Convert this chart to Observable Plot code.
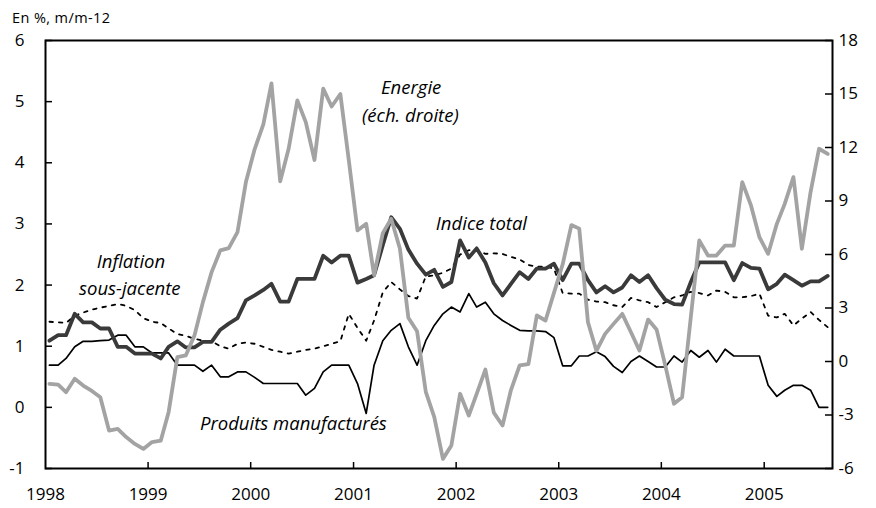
<!DOCTYPE html>
<html><head><meta charset="utf-8">
<script src="https://cdn.jsdelivr.net/npm/d3@7"></script>
<script src="https://cdn.jsdelivr.net/npm/@observablehq/plot@0.6"></script>
<style>
body{margin:0;background:#fff;font-family:"Open Sans",sans-serif;}
#wrap{position:relative;width:876px;height:508px;}
#unit{position:absolute;left:12px;top:8px;font-size:14.5px;letter-spacing:0.4px;color:#000;}
</style></head><body>
<div id="wrap"><div id="unit">En %, m/m-12</div></div>
<script>
// Monthly data, Jan 1998 – Aug 2005 (y/y % change)
const indiceTotal = [1.09,1.18,1.18,1.53,1.39,1.39,1.29,1.29,0.99,0.99,
 0.88,0.88,0.88,0.80,0.99,1.08,0.98,0.98,1.07,1.07,
 1.27,1.37,1.46,1.75,1.83,1.92,2.02,1.73,1.73,2.10,
 2.10,2.10,2.48,2.37,2.48,2.48,2.04,2.10,2.16,2.65,
 3.11,2.92,2.58,2.35,2.17,2.25,1.97,2.05,2.73,2.45,
 2.60,2.37,2.03,1.83,2.02,2.21,2.10,2.27,2.27,2.35,
 2.08,2.35,2.35,2.08,1.88,1.98,1.88,1.96,2.16,2.05,
 2.16,1.95,1.76,1.69,1.68,2.05,2.37,2.37,2.37,2.37,
 2.08,2.36,2.28,2.27,1.93,2.02,2.17,2.08,1.99,2.06,
 2.06,2.15];
const inflationSousJacente = [1.40,1.39,1.38,1.50,1.55,1.60,1.63,1.66,1.69,1.66,
 1.59,1.46,1.40,1.38,1.29,1.20,1.17,1.12,1.09,1.08,
 1.00,0.96,1.04,1.06,1.04,0.99,0.94,0.91,0.88,0.91,
 0.94,0.96,1.00,1.04,1.08,1.53,1.30,1.09,1.42,1.88,
 2.05,1.93,1.82,1.78,2.14,2.16,2.20,2.27,2.50,2.57,
 2.58,2.51,2.52,2.51,2.46,2.42,2.33,2.30,2.30,2.27,
 1.87,1.86,1.86,1.76,1.73,1.72,1.67,1.64,1.79,1.75,
 1.72,1.64,1.72,1.80,1.83,1.89,1.87,1.83,1.91,1.89,
 1.80,1.80,1.82,1.86,1.50,1.47,1.53,1.34,1.45,1.56,
 1.43,1.31];
const produitsManufactures = [0.69,0.69,0.80,0.99,1.08,1.08,1.09,1.10,1.18,1.18,
 0.99,0.99,0.89,0.89,0.89,0.69,0.69,0.69,0.59,0.69,
 0.50,0.50,0.58,0.58,0.49,0.39,0.39,0.39,0.39,0.39,
 0.20,0.31,0.58,0.69,0.69,0.69,0.39,-0.10,0.69,1.09,
 1.26,1.37,0.99,0.69,1.09,1.34,1.53,1.64,1.56,1.86,
 1.64,1.72,1.53,1.42,1.34,1.26,1.25,1.25,1.24,1.14,
 0.68,0.68,0.84,0.84,0.91,0.83,0.67,0.57,0.75,0.84,
 0.75,0.66,0.66,0.84,0.74,0.93,0.82,0.93,0.74,0.95,
 0.84,0.84,0.84,0.84,0.36,0.18,0.28,0.36,0.36,0.28,
 0.00,0.00];
const energie = [-1.25,-1.3,-1.72,-0.97,-1.35,-1.65,-2.0,-3.87,-3.78,-4.24,
 -4.62,-4.90,-4.52,-4.44,-2.84,0.24,0.34,1.46,3.33,5.01,
 6.23,6.36,7.25,10.06,11.9,13.3,15.6,10.1,11.93,14.64,
 13.42,11.3,15.3,14.3,15.0,11.3,7.35,7.72,4.85,7.2,
 8.0,6.32,2.45,1.7,-1.7,-3.1,-5.46,-4.71,-1.81,-3.03,
 -1.81,-0.45,-2.87,-3.59,-1.6,-0.22,-0.15,2.58,2.30,3.85,
 5.45,7.65,7.45,2.2,0.6,1.55,2.11,2.67,1.64,0.62,
 2.35,1.8,-0.22,-2.37,-2.0,2.5,6.79,5.94,5.94,6.5,
 6.5,10.06,8.75,6.97,6.04,7.72,8.84,10.34,6.32,9.5,
 11.93,11.64];

const leftTicks = [-1,0,1,2,3,4,5,6];
const rightTicks = [-6,-3,0,3,6,9,12,15,18];
const yearLabels = [1998,1999,2000,2001,2002,2003,2004,2005];

const labels = [
  {text:"Energie", date:new Date(2001,6,25), y:5.23},
  {text:"(éch. droite)", date:new Date(2001,6,22), y:4.77},
  {text:"Indice total", date:new Date(2002,3,1), y:2.99},
  {text:"Inflation", date:new Date(1998,10,1), y:2.37},
  {text:"sous-jacente", date:new Date(1998,9,28), y:1.93},
  {text:"Produits manufacturés", date:new Date(2000,5,1), y:-0.28}
];

// right axis (-6..18) mapped onto left axis (-1..6)
const toLeft = e => -1 + (e + 6) * 7 / 24;
const fromLeft = v => Math.round((v + 1) * 24 / 7 - 6);

const dates = d3.range(indiceTotal.length).map(i => new Date(1998, i, 15));
const series = (vals, f = v => v) => vals.map((v, i) => ({date: dates[i], v: f(v)}));
const yearDates = yearLabels.map(y => new Date(y, 0, 1));
const font = "'Open Sans', sans-serif";

const chart = Plot.plot({
  width: 876, height: 508,
  marginLeft: 45, marginRight: 44, marginTop: 40, marginBottom: 40,
  style: {fontFamily: font, fontSize: "17px", background: "white", color: "black"},
  x: {type: "time", domain: [new Date(1998,0,1), new Date(2005,8,1)]},
  y: {domain: [-1, 6]},
  marks: [
    Plot.axisY({anchor: "left", ticks: leftTicks, tickSize: 0, tickPadding: 21, tickFormat: d => String(d), label: null, fontSize: 17}),
    Plot.axisY({anchor: "right", ticks: rightTicks.map(toLeft), tickSize: 0, tickPadding: 6, tickFormat: d => String(fromLeft(d)), label: null, fontSize: 17}),
    Plot.axisX({ticks: yearDates, tickSize: 0, tickPadding: 19, tickFormat: d => String(d.getFullYear()), label: null, fontSize: 17}),
    Plot.tickY(leftTicks, {y: d => d, insetRight: 780, stroke: "black", strokeWidth: 1.5}),
    Plot.tickY(rightTicks.map(toLeft), {y: d => d, insetLeft: 780, stroke: "black", strokeWidth: 1.5}),
    Plot.tickX(yearDates.slice(1), {x: d => d, insetTop: 422, stroke: "black", strokeWidth: 1.5}),
    Plot.lineY(series(produitsManufactures), {x: "date", y: "v", stroke: "black", strokeWidth: 1.7}),
    Plot.lineY(series(inflationSousJacente), {x: "date", y: "v", stroke: "black", strokeWidth: 1.8, strokeDasharray: "3.5,6"}),
    Plot.lineY(series(indiceTotal), {x: "date", y: "v", stroke: "#3a3a3a", strokeWidth: 3.8}),
    Plot.lineY(series(energie, toLeft), {x: "date", y: "v", stroke: "#a3a3a3", strokeWidth: 3.8}),
    Plot.frame({stroke: "black", strokeWidth: 2}),
    Plot.text(labels, {x: "date", y: "y", text: "text", fontStyle: "italic", fontSize: 18.5, fill: "black"})
  ]
});
document.getElementById("wrap").appendChild(chart);
</script>
</body></html>
